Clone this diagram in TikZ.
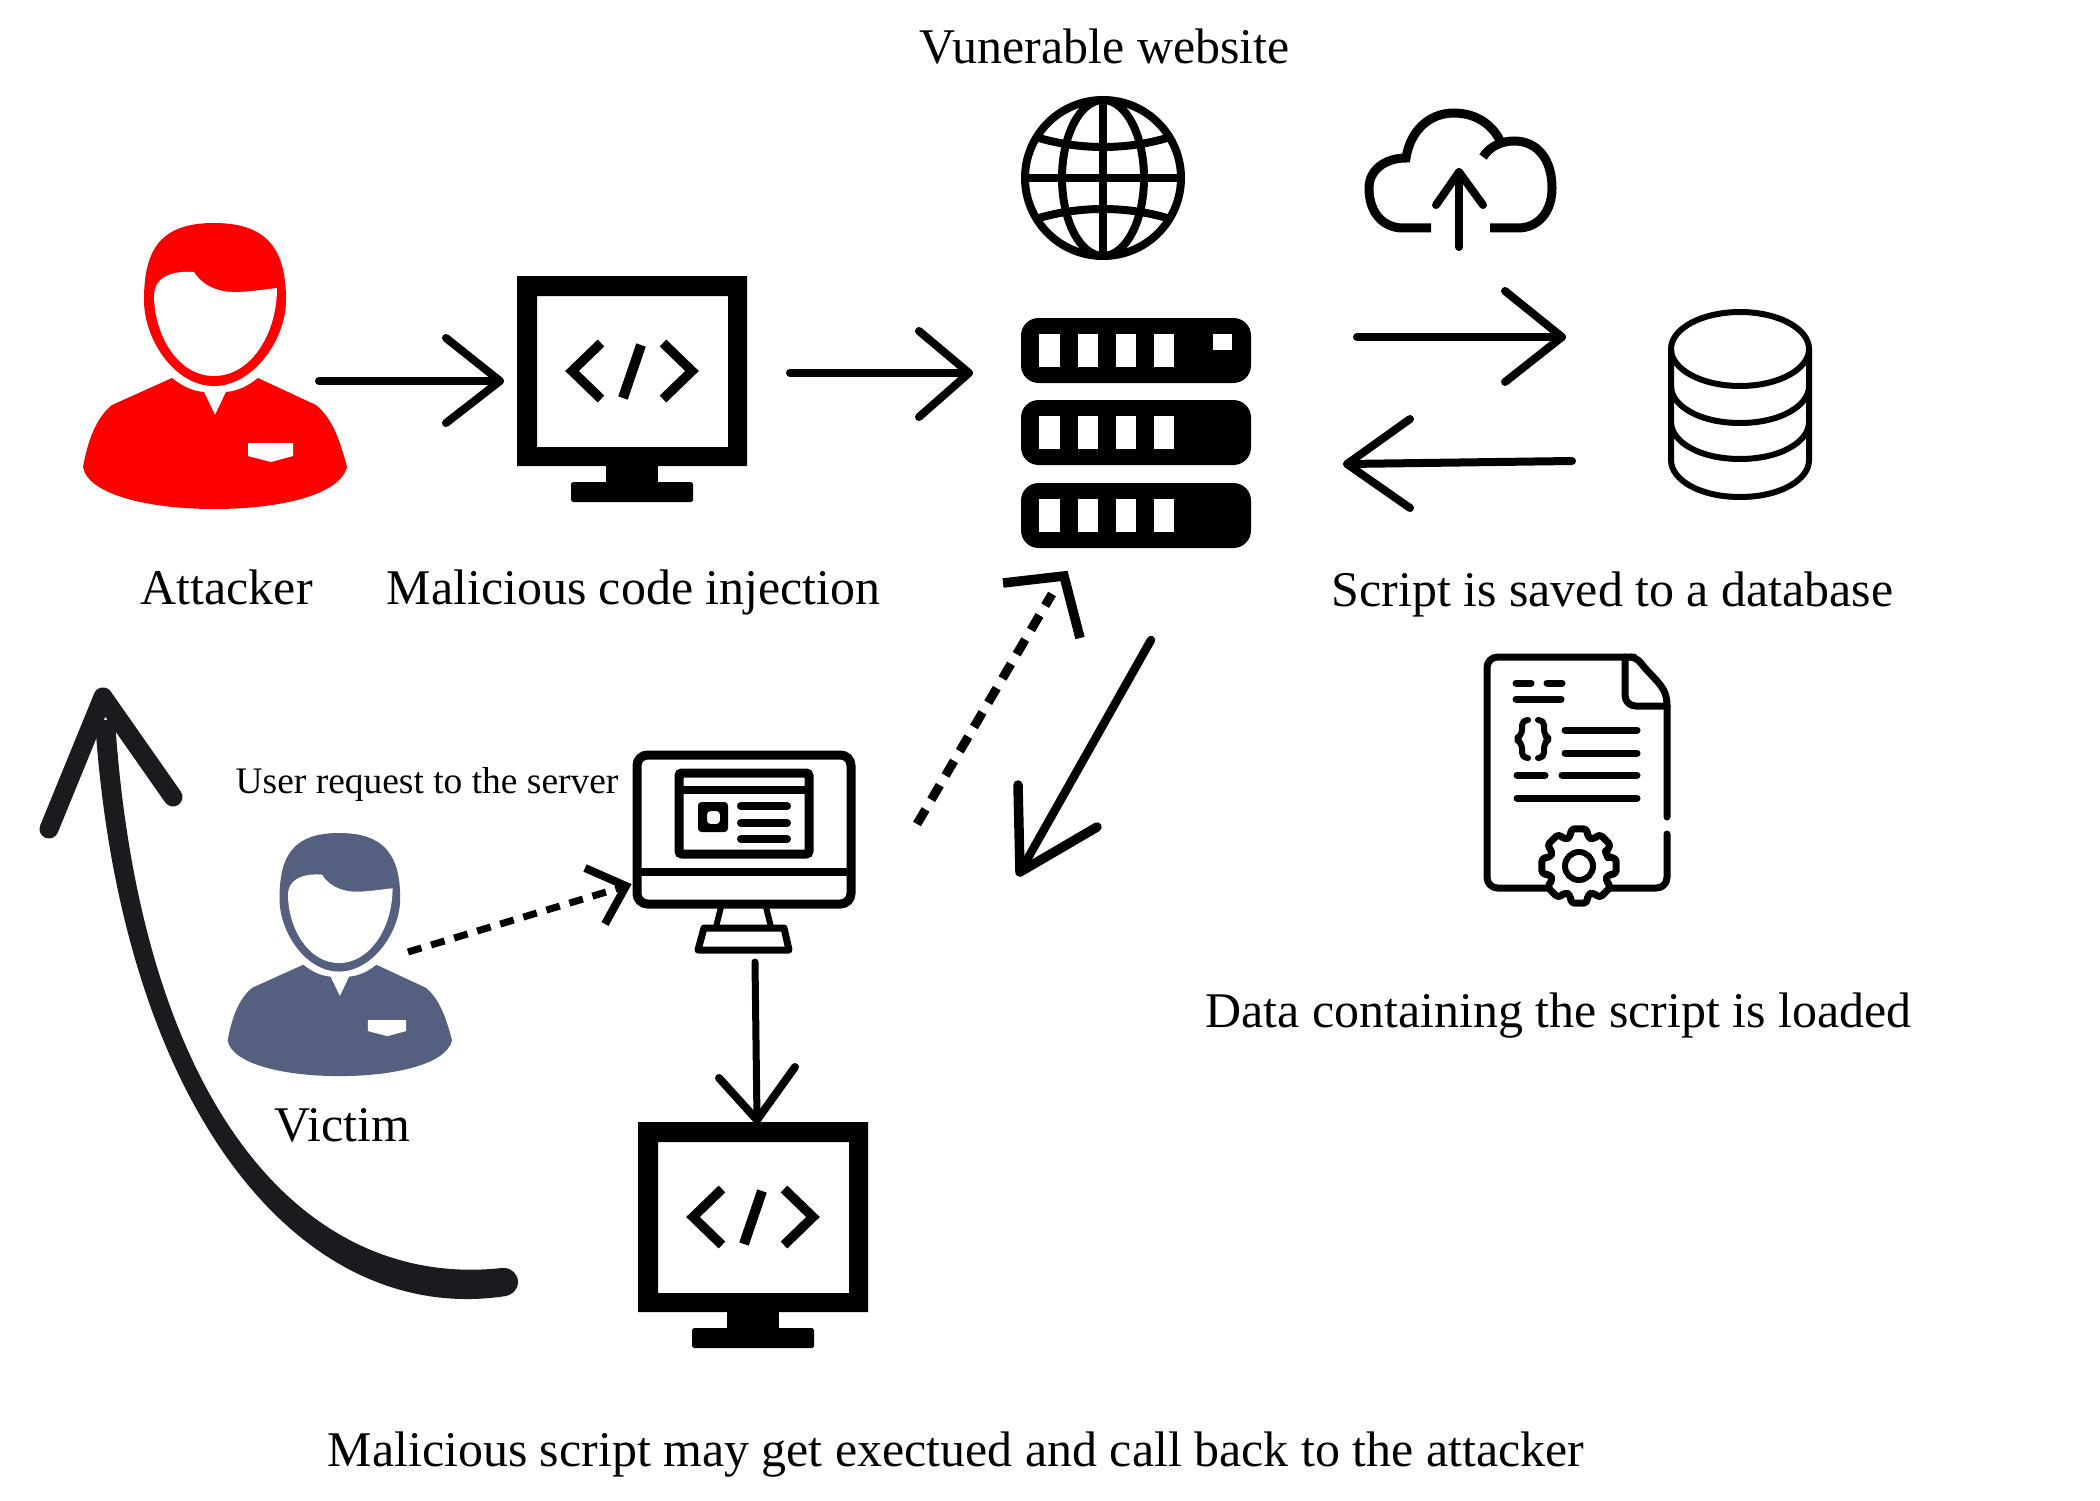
\documentclass[tikz,border=0pt]{standalone}
\usepackage{fontspec}
\setmainfont{Liberation Serif}
\newdimen\pxu \pxu=0.01cm
\definecolor{victimblue}{HTML}{556080}
\definecolor{curveink}{HTML}{1A1B1F}
\newcommand{\personicon}[1]{%
  \fill[#1] (214,386) .. controls (175,386) and (144,340) .. (144,300)
    .. controls (144,250) and (160,223) .. (214,223)
    .. controls (268,223) and (286,250) .. (286,300)
    .. controls (286,340) and (253,386) .. (214,386) -- cycle;
  \fill[white] (154,295) .. controls (154,280) and (168,270) .. (194,272)
    .. controls (204,288) and (222,293) .. (240,292)
    .. controls (255,291) and (268,289) .. (277,288)
    .. controls (277,335) and (250,376) .. (214,376)
    .. controls (178,376) and (154,335) .. (154,295) -- cycle;
  \fill[#1] (172,378) .. controls (182,386) and (192,391) .. (204,392) -- (215,415) -- (226,392)
    .. controls (238,391) and (248,386) .. (258,378) -- (316,405)
    .. controls (332,418) and (340,440) .. (347,467)
    .. controls (340,495) and (280,509) .. (214,509)
    .. controls (150,509) and (88,495) .. (83,467)
    .. controls (88,440) and (96,418) .. (112,405) -- cycle;
  \fill[white] (248,443) -- (293,443) -- (293,456) -- (271,462) -- (248,456) -- cycle;
}
\newcommand{\monitoricon}{%
  \fill[even odd rule] (517,276) rectangle (747,466) (537,296) rectangle (728,447);
  \fill (606,460) rectangle (658,490);
  \fill[rounded corners=.5pt] (571,482) rectangle (693,502);
  \draw[lw=9.5,miter limit=4] (601,343) -- (572,371) -- (601,399);
  \draw[lw=9.5,miter limit=4] (663,343) -- (692,371) -- (663,399);
  \draw[lw=10] (641,345) -- (623,398);
}
\tikzset{
  lw/.style={line width=#1*\pxu},
  label text/.style={anchor=base west,inner sep=0pt,font=\fontsize{14.2pt}{17pt}\selectfont},
  small text/.style={anchor=base west,inner sep=0pt,font=\fontsize{10.65pt}{13pt}\selectfont},
  conn/.style={lw=8,line cap=round,line join=round},
  icon line/.style={lw=7,line cap=round,line join=round}
}
\begin{document}
\begin{tikzpicture}[x=0.01cm,y=-0.01cm]
\useasboundingbox (0,0) rectangle (2100,1500);
% labels
\node[label text] (lweb) at (919,64) {Vunerable website};
\node[label text] (lattacker) at (140,604) {Attacker};
\node[label text] (linject) at (386,604) {Malicious code injection};
\node[label text] (lsaved) at (1331,606) {Script is saved to a database};
\node[label text] (lloaded) at (1205,1027) {Data containing the script is loaded};
\node[small text] (lrequest) at (235,793) {User request to the server};
\node[label text] (lvictim) at (274,1141) {Victim};
\node[label text] (lcallback) at (327,1466) {Malicious script may get exectued and call back to the attacker};
% attacker and victim
\personicon{red}
\begin{scope}[shift={(339,833)},scale=.85,shift={(-214,-223)}]
\personicon{victimblue}
\end{scope}
% monitors
\monitoricon
\begin{scope}[shift={(121,846)}]
\monitoricon
\end{scope}
% globe
\draw[lw=8] (1103,178) ellipse [x radius=78,y radius=78];
\draw[lw=8] (1103,178) ellipse [x radius=41,y radius=78];
\draw[lw=8] (1103,100) -- (1103,256);
\draw[lw=8] (1025,178) -- (1181,178);
\draw[lw=8] (1039,138) .. controls (1080,150) and (1126,150) .. (1167,138);
\draw[lw=8] (1039,218) .. controls (1080,206) and (1126,206) .. (1167,218);
% server
\foreach \dy in {0,82,165}{
  \fill[rounded corners=5pt] (1021,318+\dy) rectangle (1251,383+\dy);
  \foreach \xa/\xb in {1039/1060,1078/1098,1116/1136,1154/1174}{
    \fill[white] (\xa,334+\dy) rectangle (\xb,367+\dy);
  }
}
\fill[white] (1213,334) rectangle (1232,350);
% cloud
\draw[lw=9] (1431,228) -- (1403,228) .. controls (1385,228) and (1369,215) .. (1369,188)
  .. controls (1369,170) and (1385,158) .. (1406,158)
  .. controls (1410,132) and (1428,113) .. (1454,113)
  .. controls (1478,113) and (1495,127) .. (1502,145);
\draw[lw=9] (1483,157) .. controls (1490,146) and (1502,141) .. (1514,141)
  .. controls (1538,141) and (1552,160) .. (1552,188)
  .. controls (1552,212) and (1538,228) .. (1518,228) -- (1490,228);
\draw[conn] (1459,247) -- (1459,172);
\draw[conn] (1436,205) -- (1459,172) -- (1483,205);
% database
\draw[lw=6] (1740,349) ellipse [x radius=69,y radius=37];
\draw[lw=6] (1671,349) -- (1671,460) .. controls (1671,480) and (1700,497) .. (1740,497)
  .. controls (1780,497) and (1809,480) .. (1809,460) -- (1809,349);
\draw[lw=6] (1671,386) .. controls (1671,406) and (1700,423) .. (1740,423)
  .. controls (1780,423) and (1809,406) .. (1809,386);
\draw[lw=6] (1671,422) .. controls (1671,442) and (1700,459) .. (1740,459)
  .. controls (1780,459) and (1809,442) .. (1809,422);
% document
\draw[icon line,rounded corners=3pt] (1548,888) -- (1487,888) -- (1487,657) -- (1634,657);
\draw[icon line] (1630,657) .. controls (1638,658) and (1640,662) .. (1644,667) -- (1657,681)
  .. controls (1664,689) and (1667,695) .. (1667,706) -- (1667,817);
\draw[icon line,rounded corners=3pt] (1667,834) -- (1667,888) -- (1610,888);
\draw[icon line,rounded corners=3pt] (1625,657) -- (1625,706) -- (1667,706);
\foreach \xa/\xb/\yy in {1516/1531/683,1547/1562/683,1516/1561/699,1565/1637/730,1565/1637/753,1517/1545/775,1562/1637/775,1517/1637/798}{
  \draw[icon line] (\xa,\yy) -- (\xb,\yy);
}
\draw[icon line,lw=6,rounded corners=1.5pt] (1528,720) -- (1522,720) -- (1522,735) -- (1515,739) -- (1522,743) -- (1522,758) -- (1528,758);
\draw[icon line,lw=6,rounded corners=1.5pt] (1538,720) -- (1544,720) -- (1544,735) -- (1550,739) -- (1544,743) -- (1544,758) -- (1538,758);
\begin{scope}[shift={(1579,866)}]
\draw[icon line,rounded corners=1pt] (-22.5:30) \foreach \a in {0,45,...,315}{ -- (\a-17:30) -- (\a-12:38) -- (\a+12:38) -- (\a+17:30)} -- cycle;
\draw[lw=6] (0,0) ellipse [x radius=14,y radius=14];
\end{scope}
% computer
\draw[lw=9,rounded corners=3pt] (637,755) rectangle (851,904);
\draw[lw=8] (637,872) -- (851,872);
\draw[lw=9,rounded corners=.8pt] (679,773) rectangle (809,854);
\draw[lw=8] (679,790) -- (809,790);
\fill[rounded corners=1pt,even odd rule] (698,802) rectangle (728,832) (707,811) rectangle (720,824);
\foreach \yy in {806,823,839}{
  \draw[lw=8,line cap=round] (741,\yy) -- (787,\yy);
}
\draw[lw=6] (721,907) -- (716,927);
\draw[lw=6] (766,907) -- (771,927);
\draw[lw=7,line join=round] (704,928) -- (784,928) -- (789,950) -- (698,950) -- cycle;
% connector end points
\coordinate (a1s) at (319,381); \coordinate (a1t) at (500,381);
\coordinate (a1u) at (446,338); \coordinate (a1d) at (446,423);
\coordinate (a2s) at (790,373); \coordinate (a2t) at (969,373);
\coordinate (a2u) at (919,331); \coordinate (a2d) at (919,417);
\coordinate (a3s) at (1357,337); \coordinate (a3t) at (1562,337);
\coordinate (a3u) at (1505,291); \coordinate (a3d) at (1505,382);
\coordinate (a4s) at (1572,461); \coordinate (a4t) at (1347,464);
\coordinate (a4u) at (1410,419); \coordinate (a4d) at (1410,508);
\coordinate (v1s) at (408,952); \coordinate (v1t) at (626,886);
\coordinate (v1u) at (585,868); \coordinate (v1d) at (605,924);
\coordinate (c1s) at (755,962); \coordinate (c1t) at (757,1120);
\coordinate (c1u) at (719,1078); \coordinate (c1d) at (795,1067);
\coordinate (d1s) at (917,824); \coordinate (d1t) at (1052,594);
\coordinate (d1u) at (1003,583); \coordinate (d1m) at (1064,576); \coordinate (d1d) at (1080,638);
\coordinate (s1s) at (1151,640); \coordinate (s1t) at (1020,872);
\coordinate (s1u) at (1018,785); \coordinate (s1d) at (1097,827);
\coordinate (b1t) at (103,697); \coordinate (b1u) at (49,829); \coordinate (b1d) at (173,797);
% connectors
\draw[conn] (a1s) -- (a1t); \draw[conn] (a1u) -- (a1t) -- (a1d);
\draw[conn] (a2s) -- (a2t); \draw[conn] (a2u) -- (a2t) -- (a2d);
\draw[conn] (a3s) -- (a3t); \draw[conn] (a3u) -- (a3t) -- (a3d);
\draw[conn] (a4s) -- (a4t); \draw[conn] (a4u) -- (a4t) -- (a4d);
\draw[lw=7,dash pattern=on 4pt off 2.85pt] (v1s) -- (v1t);
\draw[lw=8,miter limit=6] (v1u) -- (v1t) -- (v1d);
\draw[lw=7,line cap=round,line join=round] (c1s) -- (c1t);
\draw[conn] (c1u) -- (c1t) -- (c1d);
\draw[lw=9,dash pattern=on 4.8pt off 3.2pt] (d1s) -- (d1t);
\draw[lw=9.5,miter limit=6] (d1u) -- (d1m) -- (d1d);
\draw[lw=8.5,line cap=round,line join=round] (s1s) -- (s1t); \draw[lw=9.5,line cap=round,line join=round] (s1u) -- (s1t) -- (s1d);
% curved call-back arrow
\fill[curveink] (506,1296) .. controls (298,1328) and (120,1105) .. (95,720) -- (115,720)
  .. controls (140,1100) and (300,1290) .. (502,1268) -- cycle;
\fill[curveink] (504,1282) circle [x radius=14,y radius=14];
\draw[lw=19,curveink,line cap=round,line join=round] (b1u) -- (b1t) -- (b1d);
\end{tikzpicture}
\end{document}
